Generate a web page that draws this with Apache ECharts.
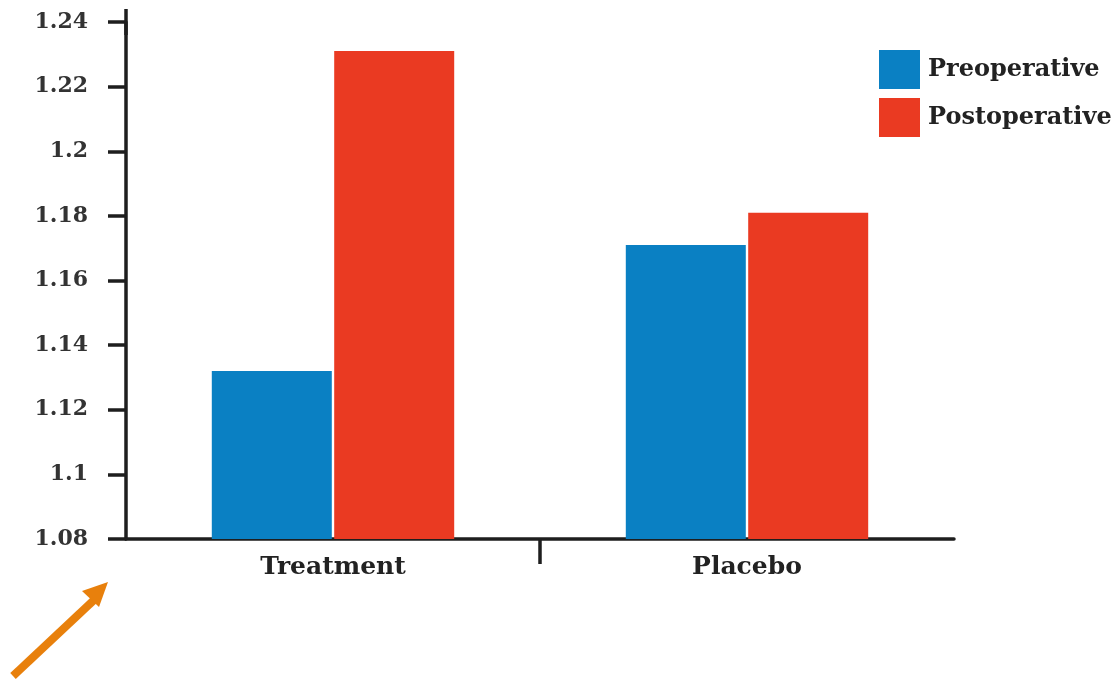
<!DOCTYPE html>
<html>
<head>
<meta charset="utf-8">
<script src="https://cdn.jsdelivr.net/npm/echarts@6/dist/echarts.min.js"></script>
<style>
html,body{margin:0;padding:0;background:#fff;}
#chart{width:1119px;height:684px;}
</style>
</head>
<body>
<div id="chart"></div>
<script>
const categories = ['Treatment', 'Placebo'];
const seriesNames = ['Preoperative', 'Postoperative'];
const preoperative = [1.132, 1.171];
const postoperative = [1.231, 1.181];
const yTicks = { min: 1.08, max: 1.24, interval: 0.02 };

const FONT = '"DejaVu Serif", serif';
const AXIS_COLOR = '#1e1e1e';

const chart = echarts.init(document.getElementById('chart'), null, { renderer: 'canvas' });
chart.setOption({
  backgroundColor: '#ffffff',
  animation: false,
  color: ['#0a80c3', '#ea3a22'],
  legend: {
    orient: 'vertical',
    left: 874,
    top: 45,
    itemWidth: 41,
    itemHeight: 39,
    itemGap: 9,
    icon: 'rect',
    data: seriesNames,
    textStyle: { fontFamily: FONT, fontWeight: 'bold', fontSize: 24, color: '#222', padding: [0, 0, 0, 3] }
  },
  grid: { left: 126, right: 165, top: 22, bottom: 145, containLabel: false },
  xAxis: [
    {
      type: 'category',
      data: categories,
      boundaryGap: true,
      axisLine: { show: true, lineStyle: { color: AXIS_COLOR, width: 3.5 } },
      axisTick: { show: false },
      axisLabel: { margin: 16, fontFamily: FONT, fontWeight: 'bold', fontSize: 25, color: '#222' },
      splitLine: { show: false }
    },
    {
      type: 'category',
      data: ['', '', ''],
      boundaryGap: false,
      position: 'bottom',
      axisLine: { show: false },
      axisLabel: { show: false },
      axisTick: { show: true, length: 25, interval: function (i) { return i === 1; }, lineStyle: { color: AXIS_COLOR, width: 3.5 } },
      splitLine: { show: false }
    }
  ],
  yAxis: {
    type: 'value',
    min: yTicks.min,
    max: yTicks.max,
    interval: yTicks.interval,
    axisLine: { show: true, symbol: ['none', 'rect'], symbolSize: [3.5, 26], lineStyle: { color: AXIS_COLOR, width: 3.5 } },
    axisTick: { show: true, length: 18, lineStyle: { color: AXIS_COLOR, width: 3.5 } },
    axisLabel: {
      margin: 38,
      fontFamily: FONT, fontWeight: 'bold', fontSize: 22, color: '#333',
      formatter: function (v) { return String(parseFloat(v.toFixed(2))); }
    },
    splitLine: { show: false }
  },
  series: [
    { name: seriesNames[0], type: 'bar', xAxisIndex: 0, data: preoperative, barWidth: 120, barGap: '2%' },
    { name: seriesNames[1], type: 'bar', xAxisIndex: 0, data: postoperative, barWidth: 120, barGap: '2%' }
  ],
  graphic: [
    { type: 'line', shape: { x1: 13, y1: 676, x2: 94, y2: 600 }, style: { stroke: '#e8800c', lineWidth: 8 } },
    { type: 'polygon', shape: { points: [[108, 582], [82, 591], [99, 607]] }, style: { fill: '#e8800c' } }
  ]
});
</script>
</body>
</html>
